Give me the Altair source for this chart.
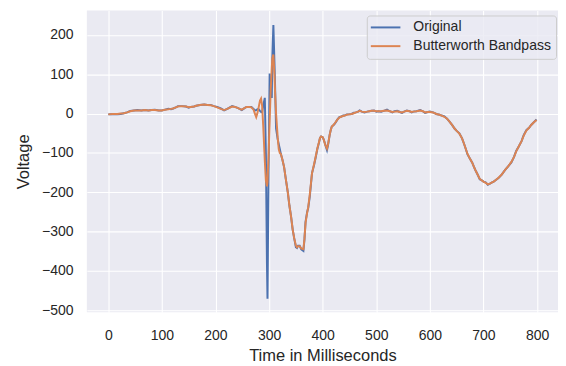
import altair as alt
import pandas as pd

# time in milliseconds
time_ms = [0, 8, 17, 23, 29, 35, 41, 48, 54, 62, 68, 75, 81, 87, 94, 100, 106, 112, 117, 121,
           126, 130, 137, 145, 150, 154, 160, 164, 171, 179, 185, 191, 197, 203, 210, 216, 222,
           231, 236, 240, 245, 249, 254, 258, 263, 267, 271, 274, 276, 278, 280, 283, 285, 287,
           289, 292, 294, 296, 297, 299, 301, 303, 305, 306, 308, 310, 311, 313, 316, 318, 320,
           322, 325, 328, 331, 335, 338, 341, 344, 347, 350, 352, 354, 357, 360, 364, 366, 368,
           371, 373, 376, 380, 384, 387, 390, 393, 395, 397, 400, 402, 405, 408, 410, 413, 415,
           417, 420, 423, 427, 431, 434, 438, 441, 445, 449, 454, 458, 462, 466, 469, 473, 478,
           483, 487, 491, 496, 500, 504, 509, 514, 520, 525, 530, 534, 539, 544, 548, 552, 557,
           562, 566, 569, 575, 582, 587, 591, 596, 600, 606, 612, 618, 622, 627, 632, 637, 642,
           646, 650, 655, 660, 664, 667, 670, 674, 679, 682, 685, 689, 693, 697, 700, 704, 708,
           712, 716, 719, 723, 728, 734, 740, 746, 752, 757, 761, 766, 771, 775, 780, 785, 789,
           794, 799]

original = [-2, -1, -2, -1, 1, 3, 7, 8, 9, 8, 9, 8, 9, 10, 8, 8, 10, 12, 11, 13,
            16, 19, 19, 18, 15, 17, 18, 20, 22, 23, 22, 22, 19, 17, 13, 8, 12,
            19, 17, 15, 12, 9, 14, 17, 17, 17, 12, 8, 9, 11, 12, 7, 4, 3,
            20, 40, -100, -380, -471, -150, 102, 60, 40, 140, 225, 130, 80, -38, -65, -78, -90,
            -103, -118, -136, -165, -201, -235, -262, -295, -318, -340, -342, -336, -336, -345, -349, -320, -275,
            -250, -240, -210, -152, -130, -111, -90, -74, -62, -58, -60, -66, -80, -93, -80, -54, -42,
            -33, -30, -25, -16, -9, -8, -5, -5, -2, -2, -1, 2, 3, 5, 8, 5, 3,
            5, 6, 7, 8, 5, 6, 5, 7, 10, 6, 3, 6, 7, 4, 2, 5, 8,
            6, 3, 5, 6, 9, 6, 2, 4, 5, 3, -1, -3, -5, -7, -13, -21, -30,
            -38, -44, -50, -63, -78, -90, -103, -113, -125, -135, -144, -155, -167, -170, -173, -175, -181,
            -178, -175, -173, -169, -164, -155, -144, -134, -124, -110, -95, -83, -70, -55, -42, -36, -29,
            -22, -15]

butterworth = [-2, -1, -1, 0, 1, 3, 6, 8, 8, 8, 9, 8, 9, 9, 8, 8, 10, 11, 12, 13,
               16, 18, 19, 18, 16, 17, 18, 20, 22, 23, 22, 21, 19, 16, 12, 9, 12,
               18, 17, 15, 12, 10, 14, 17, 17, 16, 10, -2, -9, 0, 12, 33, 38, 20,
               -30, -120, -170, -185, -175, -110, -20, 60, 115, 140, 150, 100, 60, 0, -60, -90, -100,
               -103, -118, -136, -165, -201, -235, -262, -295, -318, -336, -340, -337, -337, -343, -345, -318, -278,
               -252, -238, -205, -152, -128, -109, -89, -73, -62, -58, -60, -67, -80, -89, -78, -54, -42,
               -33, -29, -24, -16, -10, -8, -6, -5, -3, -2, -1, 1, 3, 5, 7, 5, 4,
               5, 6, 7, 7, 6, 6, 6, 7, 8, 6, 4, 5, 6, 4, 3, 5, 7,
               6, 4, 5, 6, 8, 6, 3, 4, 4, 3, -1, -3, -5, -8, -13, -21, -30,
               -38, -44, -51, -63, -78, -90, -102, -113, -125, -135, -144, -155, -166, -170, -173, -176, -180,
               -178, -175, -173, -169, -163, -155, -144, -134, -123, -110, -96, -83, -70, -56, -43, -36, -29,
               -22, -16]

series_names = ["Original", "Butterworth Bandpass"]
series_colors = ["#4C72B0", "#DD8452"]
x_ticks = [0, 100, 200, 300, 400, 500, 600, 700, 800]
y_ticks = [-500, -400, -300, -200, -100, 0, 100, 200]

df_orig = pd.DataFrame({"t": time_ms, "v": original, "series": series_names[0]})
df_filt = pd.DataFrame({"t": time_ms, "v": butterworth, "series": series_names[1]})

FONT = "Liberation Sans"

x_enc = alt.X("t:Q", title="Time in Milliseconds",
              scale=alt.Scale(domain=[-40, 839], nice=False, zero=False),
              axis=alt.Axis(values=x_ticks, format="d", labelPadding=17, titlePadding=5))
y_enc = alt.Y("v:Q", title="Voltage",
              scale=alt.Scale(domain=[-505, 262], nice=False, zero=False),
              axis=alt.Axis(values=y_ticks, format="d", labelPadding=14, titlePadding=9))
color_enc = alt.Color("series:N", title=None,
                      scale=alt.Scale(domain=series_names, range=series_colors),
                      legend=alt.Legend(orient="none", legendX=284, legendY=5,
                                        symbolType="M-1.6,0H4.4", symbolSize=100,
                                        symbolStrokeWidth=2, labelOffset=28,
                                        padding=5, rowPadding=4,
                                        fillColor="rgba(234,234,242,0.8)",
                                        strokeColor="#CCCCCC", cornerRadius=3,
                                        labelFont=FONT, labelFontSize=14.2,
                                        labelColor="#262626"))

l1 = alt.Chart(df_orig).mark_line(strokeWidth=2).encode(x=x_enc, y=y_enc, color=color_enc)
l2 = alt.Chart(df_filt).mark_line(strokeWidth=2).encode(x=x_enc, y=y_enc, color=color_enc)

chart = alt.layer(l1, l2).properties(
    width=478, height=306,
    autosize=alt.AutoSizeParams(type="none"),
    padding={"left": 80, "top": 0, "right": 0, "bottom": 52},
    background="white",
).configure_view(
    fill="#EAEAF2", stroke=None
).configure_axis(
    grid=True, gridColor="white", gridWidth=1.1,
    domain=False, ticks=False,
    labelFont=FONT, labelFontSize=14.2, labelColor="#262626",
    titleFont=FONT, titleFontSize=16.7, titleColor="#262626", titleFontWeight="normal",
)

chart.save("out.html", embed_options={"renderer": "svg", "actions": False})
